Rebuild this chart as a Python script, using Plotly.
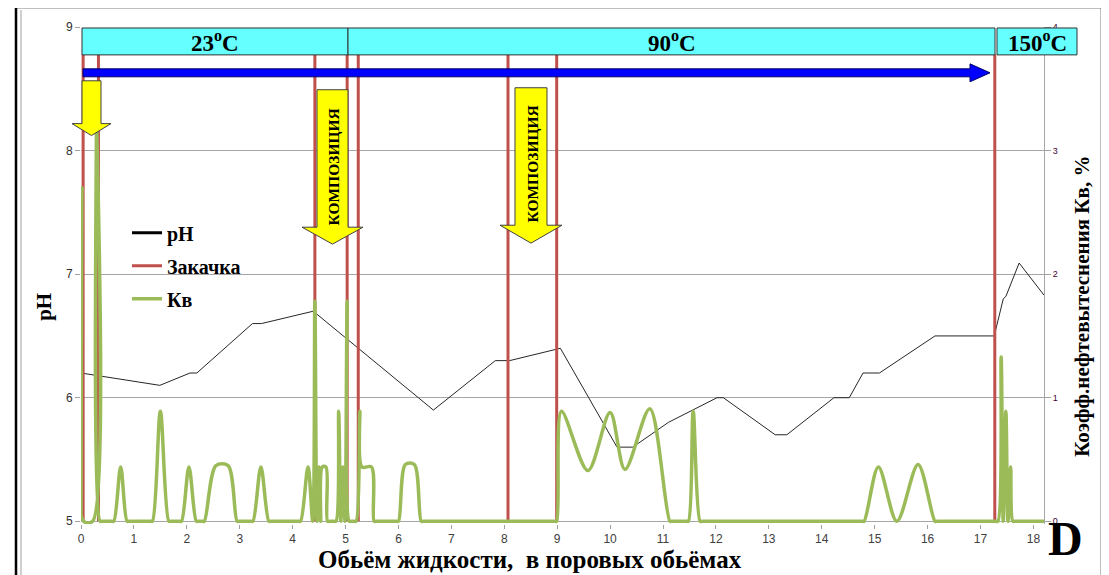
import plotly.graph_objects as go

# ---------------- data ----------------
ph_x = [0, 1.49, 2.06, 2.19, 3.24, 3.41, 4.39, 6.66, 7.83, 8.10, 9.06, 10.13, 10.43,
        11.10, 12.02, 12.14, 13.12, 13.34, 14.23, 14.52, 14.78, 15.09, 16.14, 17.26,
        17.43, 17.48, 17.73, 18.20]
ph_y = [6.20, 6.10, 6.20, 6.20, 6.60, 6.60, 6.70, 5.90, 6.30, 6.30, 6.40, 5.60, 5.60,
        5.80, 6.00, 6.00, 5.70, 5.70, 6.00, 6.00, 6.20, 6.20, 6.50, 6.50,
        6.80, 6.82, 7.09, 6.83]

kv_x = [0, 0.02, 0.05, 0.22, 0.29, 0.36, 0.40,
        0.58, 0.62, 0.75, 0.87, 0.91,
        1.31, 1.35, 1.50, 1.66, 1.70,
        1.86, 1.90, 2.04, 2.18, 2.22,
        2.29, 2.33, 2.55, 2.78, 2.95, 2.99,
        3.21, 3.25, 3.40, 3.55, 3.59,
        4.11, 4.15, 4.29, 4.38, 4.42, 4.46, 4.50, 4.53, 4.56, 4.63, 4.66, 4.70,
        4.78, 4.82, 4.87, 4.91, 4.95, 4.99, 5.03, 5.07, 5.11,
        5.16, 5.20, 5.27, 5.31, 5.49, 5.54, 5.58,
        5.96, 6.00, 6.13, 6.30, 6.43, 6.47,
        8.92, 8.96, 8.99, 9.08, 9.58, 10.00, 10.28, 10.75, 11.13, 11.17,
        11.44, 11.48, 11.57, 11.70, 11.74,
        14.76, 14.80, 15.07, 15.42, 15.82, 16.14, 16.18,
        17.29, 17.33, 17.39, 17.43, 17.48, 17.52, 17.57, 17.61, 17.65, 18.20]
kv_y = [0, 2.70, 0, 0, 3.40, 0, 0,
        0, 0, 0.44, 0, 0,
        0, 0, 0.89, 0, 0,
        0, 0, 0.44, 0, 0,
        0, 0, 0.45, 0.45, 0, 0,
        0, 0, 0.44, 0, 0,
        0, 0, 0.44, 0, 1.78, 0, 0.44, 0, 0.44, 0.44, 0, 0,
        0, 0, 0.89, 0, 0.44, 0, 1.78, 0, 0,
        0, 0, 0.89, 0.44, 0.44, 0, 0,
        0, 0, 0.46, 0.46, 0, 0,
        0, 0, 0, 0.89, 0.41, 0.88, 0.42, 0.91, 0, 0,
        0, 0, 0.89, 0, 0,
        0, 0, 0.44, 0, 0.46, 0, 0,
        0, 0, 1.33, 0, 0.89, 0, 0.44, 0, 0, 0]

inj_x = [0.04, 0.33, 4.42, 5.03, 5.24, 8.07, 8.99, 17.27]   # Закачка
inj_level = 3.78

x_ticks = list(range(0, 19))
ph_ticks = [5, 6, 7, 8, 9]
kv_ticks = [0, 1, 2, 3, 4]

stages = ["23<sup>o</sup>C", "90<sup>o</sup>C", "150<sup>o</sup>C"]
arrow_label = "КОМПОЗИЦИЯ"

# ---------------- helpers (screen pixel -> paper) ----------------
OFF = 8                        # page body margin
L, T, W, H = 81, 25, 963, 499  # plot area in screen pixels
FW, FH = 1109 - OFF, 575 - OFF
def px(x):
    return (x - L) / W
def py(y):
    return (T + H - y) / H

RED = "#C0504D"
GREEN = "#9BBB59"
SERIF = "Liberation Serif"

fig = go.Figure()

fig.add_trace(go.Scatter(x=ph_x, y=ph_y, mode="lines", line=dict(color="#262626", width=1),
                         showlegend=False, yaxis="y", hoverinfo="skip"))
fig.add_trace(go.Scatter(x=[None], y=[None], mode="lines", name="<b>pH</b>",
                         line=dict(color="#000000", width=3), legendgroup="a"))

zx, zy = [], []
for v in inj_x:
    zx += [v, v, None]
    zy += [0, inj_level, None]
fig.add_trace(go.Scatter(x=zx, y=zy, mode="lines", name="<b>Закачка</b>", yaxis="y2",
                         line=dict(color=RED, width=3), legendgroup="b"))

fig.add_trace(go.Scatter(x=kv_x, y=kv_y, mode="lines", name="<b>Кв</b>", yaxis="y2",
                         line=dict(color=GREEN, width=3.5, shape="spline", smoothing=0.9),
                         legendgroup="c"))

shapes = []
shapes.append(dict(type="rect", xref="paper", yref="paper", x0=px(16), x1=px(1102),
                   y0=py(590), y1=py(5), line=dict(color="black", width=2.5), layer="above"))
shapes.append(dict(type="line", xref="paper", yref="paper", x0=px(21), x1=px(21),
                   y0=py(590), y1=py(8), line=dict(color="#A0A0A0", width=1), layer="above"))

band = [(82, 348), (348, 995), (997, 1077)]
for a, b in band:
    shapes.append(dict(type="rect", xref="paper", yref="paper", x0=px(a), x1=px(b),
                       y0=py(53), y1=py(26), fillcolor="#66FFFF",
                       line=dict(color="#303030", width=1), layer="above"))

def path(pts):
    return "M " + " L ".join(f"{px(x):.5f},{py(y):.5f}" for x, y in pts) + " Z"
shapes.append(dict(type="path", xref="paper", yref="paper",
                   path=path([(83, 67), (970, 67), (970, 62), (990, 71), (970, 80), (970, 75), (83, 75)]),
                   fillcolor="#0000FF", line=dict(color="#00006A", width=1), layer="above"))

def down_arrow(xl, xr, top, hb, hl, hr, tip):
    cx = (hl + hr) / 2
    return path([(xl, top), (xr, top), (xr, hb), (hr, hb), (cx, tip), (hl, hb), (xl, hb)])
for spec in [(82, 101, 79, 122, 72, 111, 134),
             (317, 348, 88, 226, 302, 363, 243),
             (515, 547, 86, 224, 500, 562, 242)]:
    shapes.append(dict(type="path", xref="paper", yref="paper", path=down_arrow(*spec),
                       fillcolor="#FFFF00", line=dict(color="#404040", width=1), layer="above"))

def ann(x, y, text, size, angle=0):
    return dict(x=px(x), y=py(y), xref="paper", yref="paper", text=text, showarrow=False,
                xanchor="center", yanchor="middle", textangle=angle,
                font=dict(family=SERIF, size=size, color="black"))

annotations = []
for (a, b), s in zip(band, stages):
    annotations.append(ann((a + b) / 2, 40, f"<b>{s}</b>", 23))
for cx, cy in [(333, 166), (532, 163)]:
    annotations.append(ann(cx, cy, f"<b>{arrow_label}</b>", 15.5, -90))
annotations.append(ann(44, 306, "<b>pH</b>", 21, -90))
annotations.append(ann(530, 560, "<b>Обьём жидкости,  в поровых обьёмах</b>", 25))
annotations.append(ann(1082, 306, "<b>Коэфф.нефтевытеснения Кв, %</b>", 21, -90))
annotations.append(ann(1065, 539, "<b>D</b>", 48))

fig.update_layout(
    width=FW, height=FH, autosize=False,
    margin=dict(l=L - OFF, r=FW - (L - OFF) - W, t=T - OFF, b=FH - (T - OFF) - H),
    paper_bgcolor="white", plot_bgcolor="white",
    shapes=shapes, annotations=annotations,
    showlegend=True,
    legend=dict(x=px(127), y=py(212), xanchor="left", yanchor="top",
                font=dict(family=SERIF, size=20, color="black"),
                bgcolor="rgba(0,0,0,0)", tracegroupgap=4, traceorder="grouped",
                itemwidth=30),
    xaxis=dict(range=[0, 18.2], tickvals=x_ticks, ticks="outside", ticklen=4,
               tickcolor="#A0A0A0", showgrid=False, zeroline=False, showline=False,
               tickfont=dict(family="Liberation Sans", size=12, color="#404040")),
    yaxis=dict(range=[4.978, 9], tickvals=ph_ticks, ticks="outside", ticklen=5,
               tickcolor="#A0A0A0", showgrid=True, gridcolor="#A6A6A6", gridwidth=1,
               zeroline=False, showline=False,
               tickfont=dict(family="Liberation Sans", size=12, color="#303030")),
    yaxis2=dict(range=[-0.022, 4], tickvals=kv_ticks, overlaying="y", side="right",
                ticks="outside", ticklen=6, tickcolor="#A0A0A0", showgrid=False,
                zeroline=False, showline=True, linecolor="#A6A6A6",
                tickfont=dict(family="Liberation Sans", size=9, color="#400030")),
)

fig.write_html("out.html")
